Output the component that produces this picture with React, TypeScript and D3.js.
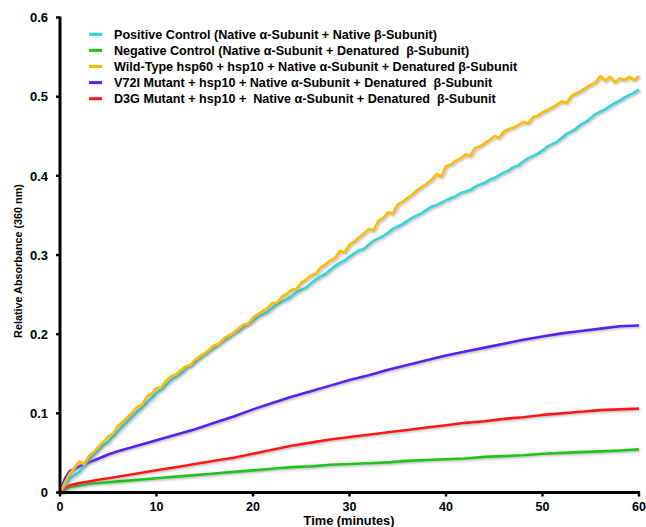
import React from "react";
import * as d3 from "d3";

const W = 646;
const H = 527;

// time grid for the dense traces (minutes)
const denseTimes: number[] = d3.range(0, 121).map((i) => i * 0.5);

const wildTypeValues: number[] = [
  0, 0.012, 0.024, 0.031, 0.039, 0.036, 0.046, 0.051, 0.058, 0.064,
  0.071, 0.074, 0.084, 0.089, 0.095, 0.101, 0.108, 0.111, 0.121, 0.125,
  0.132, 0.133, 0.141, 0.147, 0.149, 0.154, 0.159, 0.161, 0.168, 0.172,
  0.176, 0.181, 0.186, 0.188, 0.195, 0.198, 0.202, 0.207, 0.212, 0.213,
  0.221, 0.225, 0.229, 0.233, 0.239, 0.240, 0.247, 0.251, 0.256, 0.257,
  0.265, 0.269, 0.274, 0.276, 0.284, 0.288, 0.293, 0.296, 0.305, 0.303,
  0.313, 0.317, 0.322, 0.327, 0.333, 0.331, 0.343, 0.347, 0.354, 0.352,
  0.364, 0.367, 0.372, 0.376, 0.382, 0.386, 0.390, 0.395, 0.402, 0.399,
  0.412, 0.414, 0.419, 0.422, 0.427, 0.425, 0.435, 0.437, 0.441, 0.445,
  0.450, 0.448, 0.456, 0.459, 0.461, 0.464, 0.468, 0.466, 0.474, 0.476,
  0.480, 0.483, 0.486, 0.490, 0.494, 0.492, 0.501, 0.504, 0.507, 0.511,
  0.515, 0.518, 0.526, 0.520, 0.525, 0.518, 0.523, 0.521, 0.525, 0.521,
  0.526,
];

const positiveValues: number[] = [
  0, 0.009, 0.018, 0.022, 0.026, 0.034, 0.042, 0.048, 0.054, 0.060,
  0.064, 0.071, 0.077, 0.084, 0.090, 0.096, 0.102, 0.107, 0.114, 0.119,
  0.126, 0.130, 0.136, 0.142, 0.146, 0.150, 0.156, 0.160, 0.165, 0.170,
  0.174, 0.179, 0.183, 0.188, 0.192, 0.196, 0.201, 0.204, 0.209, 0.213,
  0.217, 0.222, 0.225, 0.228, 0.233, 0.238, 0.241, 0.244, 0.248, 0.253,
  0.256, 0.259, 0.264, 0.269, 0.273, 0.276, 0.281, 0.286, 0.290, 0.293,
  0.298, 0.302, 0.306, 0.308, 0.313, 0.318, 0.321, 0.324, 0.328, 0.333,
  0.336, 0.339, 0.343, 0.347, 0.350, 0.353, 0.357, 0.361, 0.363, 0.366,
  0.369, 0.372, 0.374, 0.378, 0.380, 0.382, 0.386, 0.389, 0.391, 0.395,
  0.397, 0.401, 0.404, 0.407, 0.411, 0.413, 0.418, 0.422, 0.425, 0.428,
  0.432, 0.437, 0.440, 0.443, 0.448, 0.453, 0.456, 0.460, 0.465, 0.468,
  0.473, 0.478, 0.481, 0.484, 0.488, 0.492, 0.495, 0.499, 0.502, 0.505,
  0.509,
];

// sparse traces
const sparseTimes: number[] = [
  0, 0.25, 0.5, 1, 2, 3, 4, 5, 6, 8, 10, 12, 14, 16, 18, 20, 22, 24, 26, 28,
  30, 32, 34, 36, 38, 40, 42, 44, 46, 48, 50, 52, 54, 56, 58, 60,
];

const v72iValues: number[] = [
  0, 0.009, 0.017, 0.027, 0.033, 0.038, 0.043, 0.048, 0.052, 0.059, 0.066,
  0.073, 0.080, 0.088, 0.096, 0.105, 0.113, 0.121, 0.128, 0.135, 0.142,
  0.148, 0.155, 0.161, 0.167, 0.173, 0.178, 0.183, 0.188, 0.193, 0.197,
  0.201, 0.204, 0.207, 0.210, 0.211,
];

const d3gValues: number[] = [
  0, 0.003, 0.005, 0.009, 0.012, 0.014, 0.016, 0.018, 0.020, 0.024, 0.028,
  0.032, 0.036, 0.040, 0.044, 0.049, 0.054, 0.059, 0.063, 0.067, 0.070,
  0.073, 0.076, 0.079, 0.082, 0.085, 0.088, 0.090, 0.093, 0.095, 0.098,
  0.100, 0.102, 0.104, 0.105, 0.106,
];

const negativeValues: number[] = [
  0, 0.002, 0.004, 0.007, 0.009, 0.011, 0.012, 0.013, 0.014, 0.016, 0.018,
  0.020, 0.022, 0.024, 0.026, 0.028, 0.030, 0.032, 0.033, 0.035, 0.036,
  0.037, 0.038, 0.040, 0.041, 0.042, 0.043, 0.045, 0.046, 0.047, 0.049,
  0.050, 0.051, 0.052, 0.053, 0.0545,
];

const legendLabels: string[] = [
  "Positive Control (Native α-Subunit + Native β-Subunit)",
  "Negative Control (Native α-Subunit + Denatured  β-Subunit)",
  "Wild-Type hsp60 + hsp10 + Native α-Subunit + Denatured β-Subunit",
  "V72I Mutant + hsp10 + Native α-Subunit + Denatured  β-Subunit",
  "D3G Mutant + hsp10 +  Native α-Subunit + Denatured  β-Subunit",
];
const seriesColors: string[] = ["#35d3dc", "#1ec41e", "#ffbb00", "#5520ee", "#ff1414"];

const xTicks: number[] = [0, 10, 20, 30, 40, 50, 60];
const yTicks: number[] = [0, 0.1, 0.2, 0.3, 0.4, 0.5, 0.6];

const FONT = "'Liberation Sans', Arial, sans-serif";

export default function App() {
  const x = d3.scaleLinear().domain([0, 60]).range([60, 639]);
  const y = d3.scaleLinear().domain([0, 0.6]).range([492.5, 17.5]);

  const line = d3
    .line<[number, number]>()
    .x((d) => x(d[0]))
    .y((d) => y(d[1]))
    .curve(d3.curveLinear);

  const zip = (t: number[], v: number[]) => t.map((ti, i) => [ti, v[i]] as [number, number]);

  // draw order: back to front
  const series = [
    { data: zip(sparseTimes, negativeValues), color: seriesColors[1] },
    { data: zip(sparseTimes, d3gValues), color: seriesColors[4] },
    { data: zip(sparseTimes, v72iValues), color: seriesColors[3] },
    { data: zip(denseTimes, positiveValues), color: seriesColors[0] },
    { data: zip(denseTimes, wildTypeValues), color: seriesColors[2] },
  ];

  return (
    <svg
      width={W}
      height={H}
      style={{ position: "absolute", left: 0, top: 0, background: "#fff" }}
      fontFamily={FONT}
    >
      <defs>
        <filter id="shadow" x="-5%" y="-5%" width="110%" height="110%">
          <feDropShadow dx="1.2" dy="1.2" stdDeviation="0.8" floodColor="#777" floodOpacity="0.55" />
        </filter>
      </defs>
      <rect width={W} height={H} fill="#fff" />

      {series.map((s, i) => (
        <path
          key={i}
          d={line(s.data) || ""}
          fill="none"
          stroke={s.color}
          strokeWidth={2.6}
          strokeLinejoin="round"
          filter="url(#shadow)"
        />
      ))}

      {/* axes */}
      <line x1={x(0)} x2={x(0)} y1={y(0.6) - 1} y2={y(0) + 1.5} stroke="#000" strokeWidth={3} />
      <line x1={x(0) - 1.5} x2={x(60) + 1} y1={y(0)} y2={y(0)} stroke="#000" strokeWidth={3} />
      {yTicks.map((t) => (
        <g key={"y" + t}>
          <line x1={x(0) - 4} x2={x(0)} y1={y(t)} y2={y(t)} stroke="#000" strokeWidth={2.5} />
          <text
            x={48}
            y={y(t)}
            dy="0.36em"
            textAnchor="end"
            fontSize={13}
            fontWeight="bold"
          >
            {t === 0 ? "0" : t.toFixed(1)}
          </text>
        </g>
      ))}
      {xTicks.map((t) => (
        <g key={"x" + t}>
          <line x1={x(t)} x2={x(t)} y1={y(0)} y2={y(0) + 4} stroke="#000" strokeWidth={2.5} />
          <text x={x(t)} y={511} textAnchor="middle" fontSize={12.5} fontWeight="bold">
            {t}
          </text>
        </g>
      ))}

      <text x={349} y={524.5} textAnchor="middle" fontSize={12.8} fontWeight="bold">
        Time (minutes)
      </text>
      <text
        transform="translate(22,261) rotate(-90)"
        textAnchor="middle"
        fontSize={10.8}
        fontWeight="bold"
      >
        Relative Absorbance (360 nm)
      </text>

      {/* legend */}
      {legendLabels.map((lab, i) => {
        const cy = 34.3 + i * 16.1;
        return (
          <g key={"l" + i}>
            <line x1={89} x2={102} y1={cy} y2={cy} stroke={seriesColors[i]} strokeWidth={3} />
            <text
              x={114}
              y={cy}
              dy="0.36em"
              fontSize={12.6}
              fontWeight="bold"
              style={{ whiteSpace: "pre" }}
            >
              {lab}
            </text>
          </g>
        );
      })}
    </svg>
  );
}
